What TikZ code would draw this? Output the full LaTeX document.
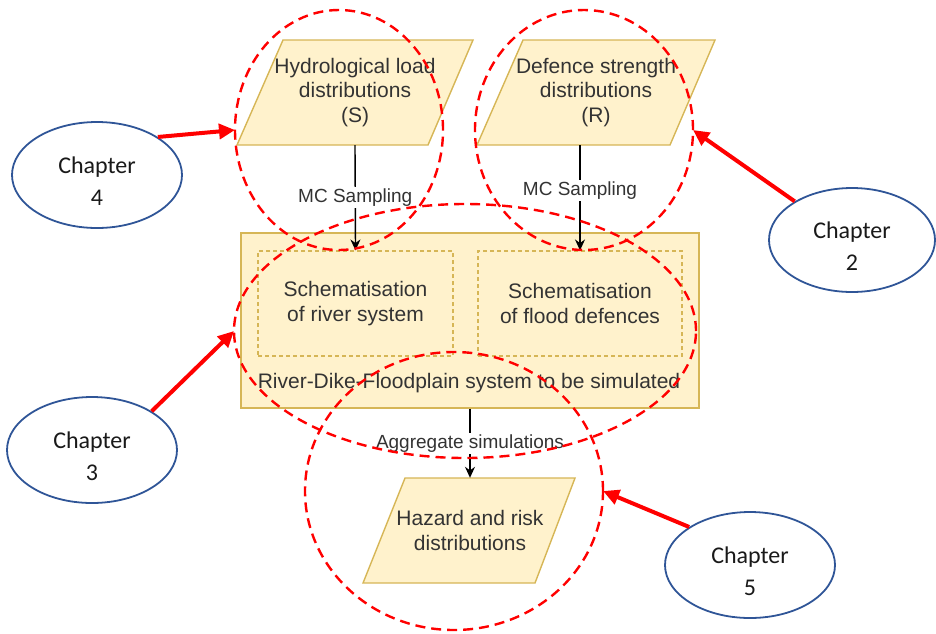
\documentclass[tikz,border=0pt]{standalone}
\usepackage{fontspec}
\setmainfont{Liberation Sans}
\newfontfamily\chapfont{Carlito}
\usetikzlibrary{arrows.meta,calc,shapes.geometric}
\definecolor{pfill}{HTML}{FFF2CC}
\definecolor{pdraw}{HTML}{D6B656}
\definecolor{txt}{HTML}{333333}
\definecolor{blueline}{HTML}{2F5597}
\definecolor{redline}{HTML}{FF0000}
\begin{document}
\begin{tikzpicture}[x=1pt,y=-1pt,
  shapefill/.style={fill=pfill,draw=pdraw,line width=1.4pt,line join=miter},
  ptext/.style={text=txt,font=\fontsize{21}{24.5}\selectfont,align=center,inner sep=0pt},
  bigbox/.style={shapefill,minimum width=458pt,minimum height=175pt,inner sep=0pt},
  inbox/.style={fill=pfill,draw=pdraw,line width=1.1pt,dash pattern=on 4pt off 3pt,minimum height=105pt,inner sep=0pt,text=txt,font=\fontsize{21}{24.5}\selectfont,align=center},
  conn/.style={draw=black,line width=1.4pt,-{Stealth[length=11pt,width=10pt]}},
  lbl/.style={fill=white,text=txt,font=\fontsize{19}{22}\selectfont,inner sep=1.5pt},
  chap/.style={ellipse,draw=blueline,line width=1.8pt,minimum width=170pt,minimum height=106pt,inner sep=0pt},
  chaptext/.style={align=center,inner sep=0pt,font=\chapfont\fontsize{24}{32}\selectfont,text=black!90},
  reddash/.style={ellipse,draw=redline,line width=2.4pt,dash pattern=on 10pt off 6pt,inner sep=0pt,outer sep=0pt},
  redarrow/.style={draw=redline,line width=4pt,-{Triangle[length=16pt,width=15pt]}}]
\useasboundingbox (0,0) rectangle (936,633);

% input parallelograms
\path[shapefill] (283,40) -- (473,40) -- (428,145) -- (237,145) -- cycle;
\node[ptext,minimum width=190pt,minimum height=105pt] (load) at (355,92.5) {Hydrological load\\distributions\\(S)};
\path[shapefill] (523,40) -- (715,40) -- (670,145) -- (477,145) -- cycle;
\node[ptext,minimum width=190pt,minimum height=105pt] (strength) at (596,92.5) {Defence strength\\distributions\\(R)};

% system box
\node[bigbox] (sys) at (470,320.5) {};
\node[inbox,minimum width=195pt] (river) at (355.5,303.5) {Schematisation\\of river system};
\node[inbox,minimum width=204pt] (defence) at (580,303.5) {Schematisation\\of flood defences};
\node[ptext] (syslbl) at (469,383) {River-Dike-Floodplain system to be simulated};

% output parallelogram
\path[shapefill] (405,478) -- (575,478) -- (535,583) -- (363,583) -- cycle;
\node[ptext,minimum width=170pt,minimum height=105pt] (hazard) at (470,530.5) {Hazard and risk\\distributions};

% connectors
\draw[conn] (load.south) -- node[lbl,pos=0.5]{MC Sampling} (river.north);
\draw[conn] (defence.north |- strength.south) -- node[lbl,pos=0.43]{MC Sampling} (defence.north);
\draw[conn] (sys.south) -- node[lbl,pos=0.5]{Aggregate simulations} (hazard.north);

% red dashed ellipses
\node[reddash,minimum width=208pt,minimum height=240pt] (c1) at (339,130) {};
\node[reddash,minimum width=218pt,minimum height=240pt] (c2) at (584,130) {};
\node[reddash,minimum width=462pt,minimum height=254pt] (c3) at (465,331) {};
\node[reddash,minimum width=298pt,minimum height=278pt] (c4) at (454,491) {};

% chapter ellipses
\node[chap] (ch4) at (97,175) {};
\node[chaptext] (ch4t) at ([yshift=-6pt]ch4.center) {Chapter\\4};
\node[chap,minimum width=166pt,minimum height=104pt] (ch2) at (852,240) {};
\node[chaptext] (ch2t) at ([yshift=-6pt]ch2.center) {Chapter\\2};
\node[chap] (ch3) at (92,450) {};
\node[chaptext] (ch3t) at ([yshift=-6pt]ch3.center) {Chapter\\3};
\node[chap] (ch5) at (750,565) {};
\node[chaptext] (ch5t) at ([yshift=-6pt]ch5.center) {Chapter\\5};

% red arrows
\draw[redarrow] (ch4.32) -- (c1.west);
\draw[redarrow] (ch2.146) -- (c2.east);
\draw[redarrow] (ch3.33) -- (c3.west);
\draw[redarrow] (ch5.148) -- (c4.east);
\end{tikzpicture}
\end{document}
